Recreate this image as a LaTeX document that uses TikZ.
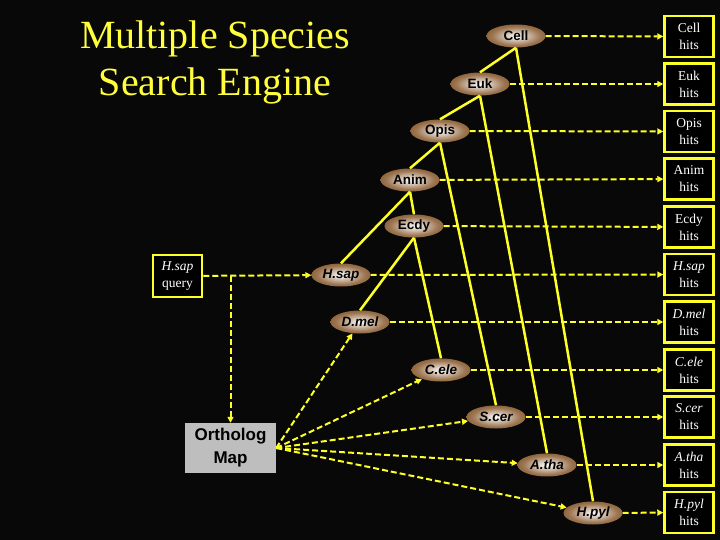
\documentclass[tikz,border=0pt]{standalone}
\usepackage{fontspec}
\setmainfont{Liberation Serif}
\setsansfont{Liberation Sans}
\usepackage{xcolor}
\usepackage{tikz}
\usetikzlibrary{positioning,shapes.geometric,arrows.meta}

\definecolor{titleyellow}{RGB}{255,255,60}
\definecolor{linkyellow}{RGB}{255,255,40}
\definecolor{taxonbrown}{RGB}{125,75,28}
\definecolor{mapgray}{RGB}{190,190,190}
\pgfdeclareradialshading{taxonglow}{\pgfpoint{0bp}{0bp}}{%
  color(0bp)=(white); color(8bp)=(taxonbrown!30!white);
  color(20bp)=(taxonbrown!75!white); color(32bp)=(taxonbrown);
  color(50bp)=(taxonbrown!70!black)}

\begin{document}
\begin{tikzpicture}[x=1pt, y=-1pt,
  taxon/.style={ellipse, shading=taxonglow, minimum width=59pt, minimum height=23pt,
    inner sep=0pt, font=\sffamily\bfseries\fontsize{13.5}{15}\selectfont, text=black},
  leaf/.style={taxon, font=\sffamily\bfseries\itshape\fontsize{13.5}{15}\selectfont},
  hitbox/.style={draw=linkyellow, line width=2.5pt, fill=black, minimum width=49pt,
    minimum height=41pt, inner sep=0pt, align=center, text=white,
    font=\fontsize{13.5}{17}\selectfont},
  tree/.style={linkyellow, line width=2.5pt},
  link/.style={linkyellow, line width=2pt, dash pattern=on 6pt off 3pt,
    -{Triangle[length=6pt, width=6pt]}}]

% background
\fill[black!97!white] (0,0) rectangle (720,540);

% title
\node[text=titleyellow, align=center, font=\fontsize{40}{47}\selectfont] (title) at (215,62)
  {Multiple Species\\Search Engine};

% query and ortholog map
\node[hitbox, minimum height=42pt] (query) at (177.5,276) {\textit{H.sap}\\query};
\node[fill=mapgray, minimum width=91pt, minimum height=50pt, inner sep=0pt, align=center,
  font=\sffamily\bfseries\fontsize{17}{23}\selectfont] (omap) at (230.5,448) {Ortholog\\Map};

% taxa of the tree
\node[taxon] (cell) at (516,36) {Cell};
\node[taxon] (euk) at (480,84) {Euk};
\node[taxon] (opis) at (440,131) {Opis};
\node[taxon] (anim) at (410,180) {Anim};
\node[taxon] (ecdy) at (414,226) {Ecdy};
\node[leaf] (hsap) at (341,275) {H.sap};
\node[leaf] (dmel) at (360,322) {D.mel};
\node[leaf] (cele) at (441,370) {C.ele};
\node[leaf] (scer) at (496,417) {S.cer};
\node[leaf] (atha) at (547,465) {A.tha};
\node[leaf] (hpyl) at (593,513) {H.pyl};

% hits boxes
\node[hitbox] (cellhits) at (689,36.5) {Cell\\hits};
\node[hitbox] (eukhits) at (689,84) {Euk\\hits};
\node[hitbox] (opishits) at (689,131.5) {Opis\\hits};
\node[hitbox] (animhits) at (689,179) {Anim\\hits};
\node[hitbox] (ecdyhits) at (689,227) {Ecdy\\hits};
\node[hitbox] (hsaphits) at (689,274.5) {\textit{H.sap}\\hits};
\node[hitbox] (dmelhits) at (689,322) {\textit{D.mel}\\hits};
\node[hitbox] (celehits) at (689,370) {\textit{C.ele}\\hits};
\node[hitbox] (scerhits) at (689,417) {\textit{S.cer}\\hits};
\node[hitbox] (athahits) at (689,465) {\textit{A.tha}\\hits};
\node[hitbox] (hpylhits) at (689,512.5) {\textit{H.pyl}\\hits};

% tree branches
\draw[tree] (cell.south) -- (euk.north);
\draw[tree] (cell.south) -- (hpyl.north);
\draw[tree] (euk.south) -- (opis.north);
\draw[tree] (euk.south) -- (atha.north);
\draw[tree] (opis.south) -- (anim.north);
\draw[tree] (opis.south) -- (scer.north);
\draw[tree] (anim.south) -- (hsap.north);
\draw[tree] (anim.south) -- (ecdy.north);
\draw[tree] (ecdy.south) -- (dmel.north);
\draw[tree] (ecdy.south) -- (cele.north);

% query links
\coordinate (qsplit) at (omap |- query);
\draw[link] (query) -- (hsap);
\draw[link] (qsplit) -- (omap);

% ortholog links
\foreach \t in {dmel,cele,scer,atha,hpyl}
  \draw[link] (omap.east) -- (\t);

% links to hits
\foreach \t in {cell,euk,opis,anim,ecdy,hsap,dmel,cele,scer,atha,hpyl}
  \draw[link] (\t) -- (\t hits);
\end{tikzpicture}
\end{document}
